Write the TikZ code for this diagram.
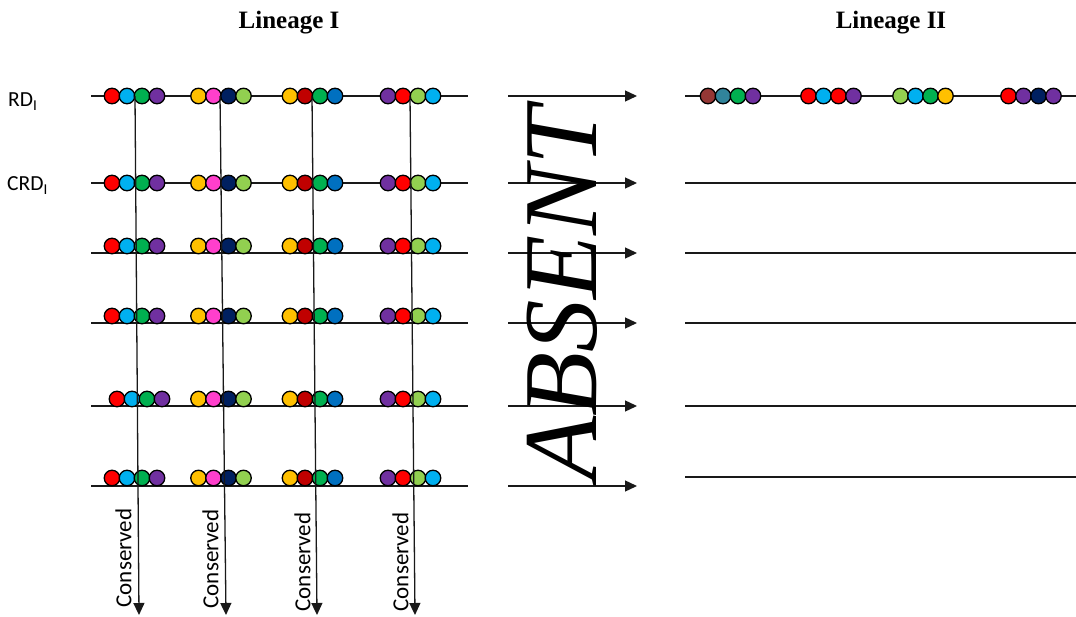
\documentclass[tikz,border=0pt]{standalone}
\usepackage{fontspec}
\setmainfont{Liberation Serif}
\newfontfamily\calib{Carlito}
\usetikzlibrary{arrows.meta}
\definecolor{cRed}{HTML}{FF0000}
\definecolor{cLB}{HTML}{00B0F0}
\definecolor{cGr}{HTML}{00B050}
\definecolor{cPu}{HTML}{7030A0}
\definecolor{cOr}{HTML}{FFC000}
\definecolor{cMg}{HTML}{FF3FCC}
\definecolor{cNv}{HTML}{002060}
\definecolor{cLG}{HTML}{92D050}
\definecolor{cDR}{HTML}{C00000}
\definecolor{cBl}{HTML}{0070C0}
\definecolor{cBr}{HTML}{953735}
\definecolor{cTl}{HTML}{31849B}
\tikzset{
  hline/.style={line width=1.3pt, draw=black!90},
  harrow/.style={line width=1.3pt, draw=black!90, -{Triangle[length=12pt,width=11pt]}},
  varrow/.style={line width=1.3pt, draw=black!90, -{Triangle[length=12pt,width=11pt]}},
  bead/.style={circle, draw=black, line width=1.3pt, minimum size=15.5pt, inner sep=0pt},
  conslabel/.style={rotate=90, inner sep=0pt, font=\calib\fontsize{23}{26}\selectfont},
  rowlabel/.style={anchor=base west, inner sep=0pt, font=\calib\fontsize{21.5}{24}\selectfont},
  title/.style={anchor=base, inner sep=0pt, font=\bfseries\fontsize{25}{30}\selectfont},
  bigword/.style={rotate=90, inner sep=0pt, font=\itshape\fontsize{105}{110}\selectfont}
}
\begin{document}
\begin{tikzpicture}[x=1pt,y=-1pt]
\useasboundingbox (0,0) rectangle (1076,617);

% titles
\node[title] (lin1) at (289,29) {Lineage I};
\node[title] (lin2) at (891,29) {Lineage II};

% row labels
\node[rowlabel] (rd) at (8,107) {RD\textsubscript{I}};
\node[rowlabel] (crd) at (7,191) {CRD\textsubscript{I}};

% left rows: lines and beads
\foreach \r/\y/\cy/\dx in {1/96/96/0, 2/183/183/0, 3/253/246/0, 4/323/316/0, 5/406/399/5, 6/486/478/0}{
  \coordinate (L\r a) at (91,\y);
  \coordinate (L\r b) at (468,\y);
  \draw[hline] (L\r a) -- (L\r b);
  \foreach \g/\gx/\cols in {1/112/{cRed,cLB,cGr,cPu}, 2/198.5/{cOr,cMg,cNv,cLG}, 3/290/{cOr,cDR,cGr,cBl}, 4/388/{cPu,cRed,cLG,cLB}}{
    \foreach \c [count=\i] in \cols {
      \pgfmathsetmacro{\xx}{\gx+15*(\i-1)+\dx*(\g==1)}
      \node[bead, fill=\c] (b\r-\g-\i) at (\xx,\cy) {};
    }
  }
}

% vertical "Conserved" arrows
\foreach \k/\xt/\xb in {1/135/139, 2/220/226, 3/312/317, 4/410/415}{
  \coordinate (V\k t) at (\xt,96);
  \coordinate (V\k b) at (\xb,615);
  \draw[varrow] (V\k t) -- (V\k b);
}
\node[conslabel] (cons1) at (123.5,558) {Conserved};
\node[conslabel] (cons2) at (210.5,559) {Conserved};
\node[conslabel] (cons3) at (302.5,562) {Conserved};
\node[conslabel] (cons4) at (400.5,562) {Conserved};

% middle arrows
\foreach \r/\y in {1/96, 2/183, 3/253, 4/323, 5/406, 6/486}{
  \coordinate (M\r a) at (508,\y);
  \coordinate (M\r b) at (637,\y);
  \draw[harrow] (M\r a) -- (M\r b);
}

% ABSENT
\node[bigword] (absent) at (562,294) {ABSENT};

% right lines
\foreach \r/\y in {1/96, 2/183, 3/253, 4/323, 5/406, 6/477}{
  \coordinate (R\r a) at (685,\y);
  \coordinate (R\r b) at (1076,\y);
  \draw[hline] (R\r a) -- (R\r b);
}
% right beads
\foreach \g/\gx/\cols in {1/708/{cBr,cTl,cGr,cPu}, 2/808.5/{cRed,cLB,cRed,cPu}, 3/900.5/{cLG,cLB,cGr,cOr}, 4/1008.5/{cRed,cPu,cNv,cPu}}{
  \foreach \c [count=\i] in \cols {
    \pgfmathsetmacro{\xx}{\gx+15*(\i-1)}
    \node[bead, fill=\c] (rb-\g-\i) at (\xx,96) {};
  }
}
\end{tikzpicture}
\end{document}
